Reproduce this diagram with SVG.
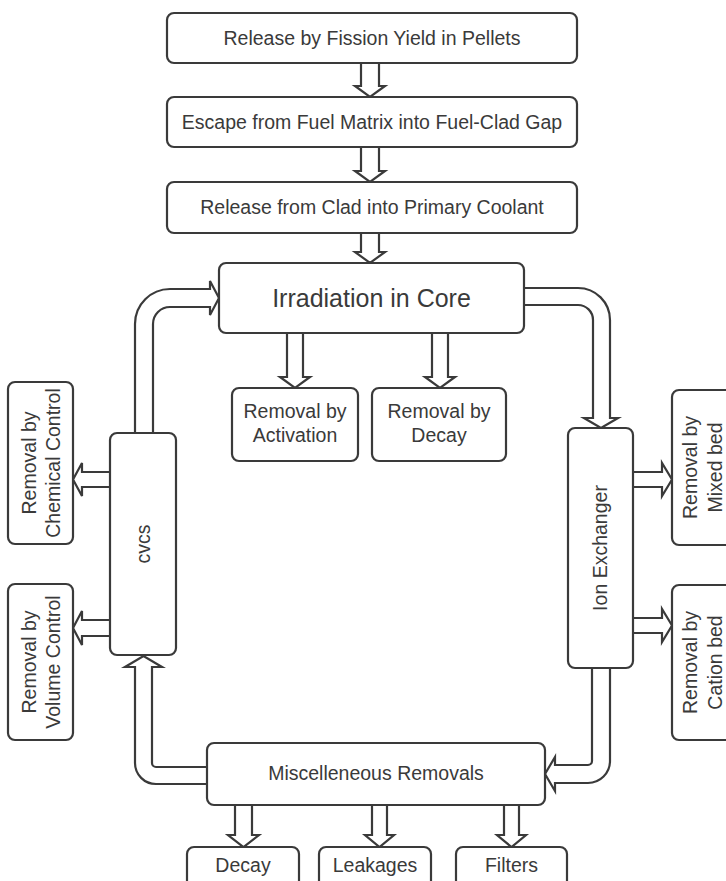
<svg xmlns="http://www.w3.org/2000/svg" width="726" height="881" viewBox="0 0 726 881">
  <style>
    .box { fill: #ffffff; stroke: #3a3a3a; stroke-width: 2.2; }
    .arrow { fill: #ffffff; stroke: #3a3a3a; stroke-width: 2.2; stroke-linejoin: miter; }
    text { font-family: "Liberation Sans", Arial, sans-serif; font-size: 19.5px; fill: #3a3a3a; text-anchor: middle; }
    .big { font-size: 25px; }
  </style>
  <rect width="726" height="881" fill="#ffffff"/>

  <!-- hollow block arrows -->
  <g id="connectors">
    <!-- chain of release steps -->
    <path class="arrow" d="M361,63 V86 H355 L370,97 L385,86 H379 V63"/>
    <path class="arrow" d="M361,147 V171 H355 L370,182 L385,171 H379 V147"/>
    <path class="arrow" d="M361,233 V252 H355 L370,263 L385,252 H379 V233"/>
    <!-- core to removals -->
    <path class="arrow" d="M287,333 V377 H280 L295,388 L310,377 H303 V333"/>
    <path class="arrow" d="M432,333 V377 H425 L440,388 L455,377 H448 V333"/>
    <!-- cvcs back to core -->
    <path class="arrow" d="M135,433 V324 A35,35 0 0 1 170,289 H210 V281 L219,298 L210,315 V307 H170 A17,17 0 0 0 153,324 V433"/>
    <!-- core to ion exchanger -->
    <path class="arrow" d="M524,288 H578 A32,32 0 0 1 610,320 V418 H618 L601,428 L584,418 H593 V320 A15,15 0 0 0 578,305 H524"/>
    <!-- ion exchanger to miscellaneous -->
    <path class="arrow" d="M610,668 V761 A22,22 0 0 1 588,783 H555 V791 L545,774 L555,757 V765 H588 A4,4 0 0 0 592,761 V668"/>
    <!-- miscellaneous to cvcs -->
    <path class="arrow" d="M207,767 H156 A4,4 0 0 1 152,763 V667 H162 L143.5,656 L125,667 H135 V763 A21,21 0 0 0 156,784 H207"/>
    <!-- cvcs side removals -->
    <path class="arrow" d="M110,472 H82 V463 L73,479.5 L82,496 V487 H110"/>
    <path class="arrow" d="M110,620 H82 V611 L73,628 L82,645 V636 H110"/>
    <!-- ion exchanger side removals -->
    <path class="arrow" d="M633,472 H662 V463 L672,479.5 L662,496 V487 H633"/>
    <path class="arrow" d="M633,618 H662 V609 L672,625.5 L662,642 V633 H633"/>
    <!-- miscellaneous outlets -->
    <path class="arrow" d="M235,805 V835 H228 L243.5,847 L259,835 H252 V805"/>
    <path class="arrow" d="M372,805 V835 H365 L379.5,847 L394,835 H387 V805"/>
    <path class="arrow" d="M504,805 V835 H497 L511.5,847 L526,835 H519 V805"/>
  </g>

  <g id="fission-yield">
    <rect class="box" x="167" y="13" width="410" height="50" rx="7"/>
    <text x="372" y="45">Release by Fission Yield in Pellets</text>
  </g>
  <g id="fuel-matrix">
    <rect class="box" x="167" y="97" width="410" height="50" rx="7"/>
    <text x="372" y="129">Escape from Fuel Matrix into Fuel-Clad Gap</text>
  </g>
  <g id="clad-release">
    <rect class="box" x="167" y="182" width="410" height="51" rx="7"/>
    <text x="372" y="214">Release from Clad into Primary Coolant</text>
  </g>
  <g id="irradiation">
    <rect class="box" x="219" y="263" width="305" height="70" rx="7"/>
    <text class="big" x="371.5" y="307">Irradiation in Core</text>
  </g>
  <g id="activation">
    <rect class="box" x="232" y="388" width="126" height="73" rx="7"/>
    <text x="295" y="418">Removal by</text>
    <text x="295" y="442">Activation</text>
  </g>
  <g id="decay-core">
    <rect class="box" x="372" y="388" width="134" height="73" rx="7"/>
    <text x="439" y="418">Removal by</text>
    <text x="439" y="442">Decay</text>
  </g>
  <g id="cvcs">
    <rect class="box" x="110" y="433" width="66" height="222" rx="7"/>
    <text transform="translate(150,544) rotate(-90)">cvcs</text>
  </g>
  <g id="ion-exchanger">
    <rect class="box" x="568" y="428" width="65" height="240" rx="7"/>
    <text transform="translate(607,548) rotate(-90)">Ion Exchanger</text>
  </g>
  <g id="chemical-control">
    <rect class="box" x="8" y="382" width="65" height="162" rx="7"/>
    <text transform="translate(35.5,463) rotate(-90)"><tspan x="0" y="0">Removal by</tspan><tspan x="0" y="24.5">Chemical Control</tspan></text>
  </g>
  <g id="volume-control">
    <rect class="box" x="8" y="584" width="65" height="156" rx="7"/>
    <text transform="translate(35.5,662) rotate(-90)"><tspan x="0" y="0">Removal by</tspan><tspan x="0" y="24.5">Volume Control</tspan></text>
  </g>
  <g id="mixed-bed">
    <rect class="box" x="672" y="390" width="70" height="155" rx="7"/>
    <text transform="translate(697,467.5) rotate(-90)"><tspan x="0" y="0">Removal by</tspan><tspan x="0" y="25">Mixed bed</tspan></text>
  </g>
  <g id="cation-bed">
    <rect class="box" x="672" y="585" width="70" height="155" rx="7"/>
    <text transform="translate(697,662.5) rotate(-90)"><tspan x="0" y="0">Removal by</tspan><tspan x="0" y="25">Cation bed</tspan></text>
  </g>
  <g id="miscellaneous">
    <rect class="box" x="207" y="743" width="338" height="62" rx="7"/>
    <text x="376" y="780">Miscelleneous Removals</text>
  </g>
  <g id="decay">
    <rect class="box" x="187" y="847" width="112" height="45" rx="7"/>
    <text x="243" y="872">Decay</text>
  </g>
  <g id="leakages">
    <rect class="box" x="319" y="847" width="112" height="45" rx="7"/>
    <text x="375" y="872">Leakages</text>
  </g>
  <g id="filters">
    <rect class="box" x="456" y="847" width="111" height="45" rx="7"/>
    <text x="511.5" y="872">Filters</text>
  </g>
</svg>
